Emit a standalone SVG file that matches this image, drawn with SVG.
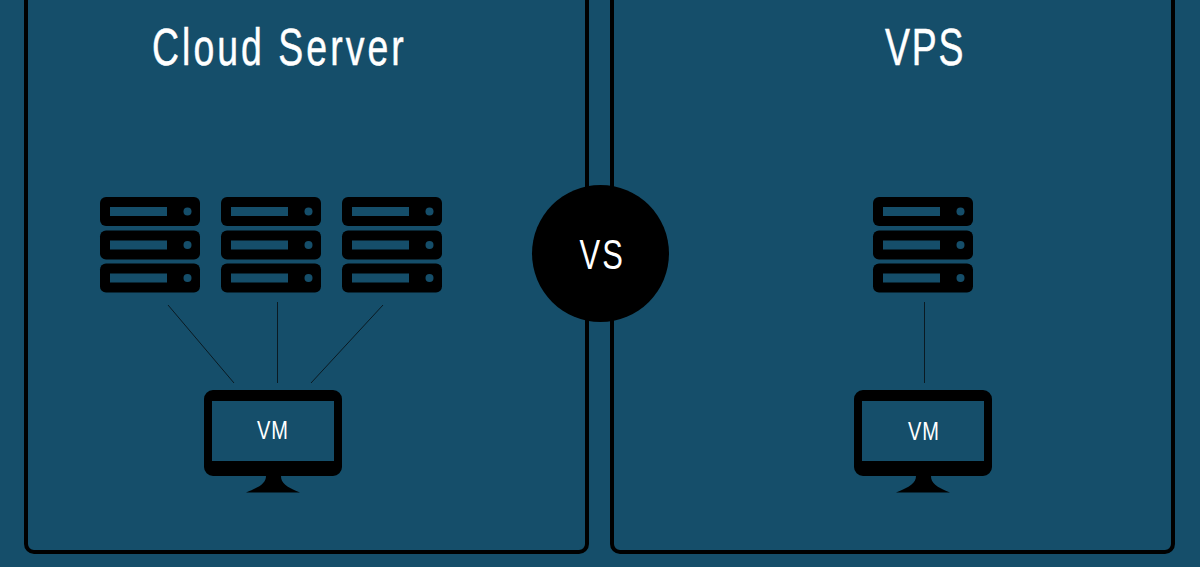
<svg xmlns="http://www.w3.org/2000/svg" xmlns:xlink="http://www.w3.org/1999/xlink" width="1200" height="567" viewBox="0 0 1200 567">
<style>
.panel{fill:none;stroke:#000;stroke-width:4}
.link{stroke:#0a1a22;stroke-width:1;fill:none}
.t{fill:#fff;font-family:"Liberation Sans",Arial,sans-serif}
.head{stroke:#fff;stroke-width:.5}
.hole{fill:#154e6a}
</style>
<defs>
<g id="rack">
<rect width="100" height="29" rx="6" fill="#000"/>
<rect x="10" y="10" width="57" height="9" class="hole"/>
<circle cx="87.500" cy="14.500" r="4" class="hole"/>
</g>
<g id="server">
<use xlink:href="#rack" y="0"/>
<use xlink:href="#rack" y="33.500"/>
<use xlink:href="#rack" y="66.500"/>
</g>
<g id="monitor">
<path d="M9 0H129a9 9 0 0 1 9 9V77a9 9 0 0 1-9 9H9a9 9 0 0 1-9-9V9a9 9 0 0 1 9-9ZM8 11V71H130V11Z" fill-rule="evenodd" fill="#000"/>
<path d="M62 86H77C77 93 82 97 96 102.500H42C56 97 62 93 62 86Z" fill="#000"/>
</g>
</defs>
<rect width="1200" height="567" fill="#154e6a"/>
<g id="panel-cloud"><path class="panel" d="M26-4V544a8 8 0 0 0 8 8H579a8 8 0 0 0 8-8V-4"/></g>
<g id="panel-vps"><path class="panel" d="M612-4V544a8 8 0 0 0 8 8H1165a8 8 0 0 0 8-8V-4"/></g>
<text id="title-cloud" class="t head" transform="translate(152 65) scale(.72 1)" font-size="52" letter-spacing="4.200">Cloud Server</text>
<text id="title-vps" class="t head" transform="translate(885 65) scale(.72 1)" font-size="52" letter-spacing="2.500">VPS</text>
<g id="connectors">
<line class="link" x1="168" y1="305" x2="234" y2="383"/>
<line class="link" x1="277.500" y1="302" x2="277.500" y2="383"/>
<line class="link" x1="383" y1="305" x2="311" y2="383"/>
<line class="link" x1="924.500" y1="302" x2="924.500" y2="383"/>
</g>
<g id="server-1"><use xlink:href="#server" x="100" y="197"/></g>
<g id="server-2"><use xlink:href="#server" x="221" y="197"/></g>
<g id="server-3"><use xlink:href="#server" x="342" y="197"/></g>
<g id="server-4"><use xlink:href="#server" x="873" y="197"/></g>
<g id="vm-cloud"><use xlink:href="#monitor" x="204" y="390"/>
<text class="t" transform="translate(257 439) scale(.8 1)" font-size="25" letter-spacing="1">VM</text></g>
<g id="vm-vps"><use xlink:href="#monitor" x="854" y="390"/>
<text class="t" transform="translate(908 440) scale(.8 1)" font-size="25" letter-spacing="1">VM</text></g>
<g id="vs"><circle cx="600.500" cy="253.500" r="68.500" fill="#000"/>
<text class="t" transform="translate(579.500 269) scale(.72 1)" font-size="43" letter-spacing="3">VS</text></g>
</svg>
